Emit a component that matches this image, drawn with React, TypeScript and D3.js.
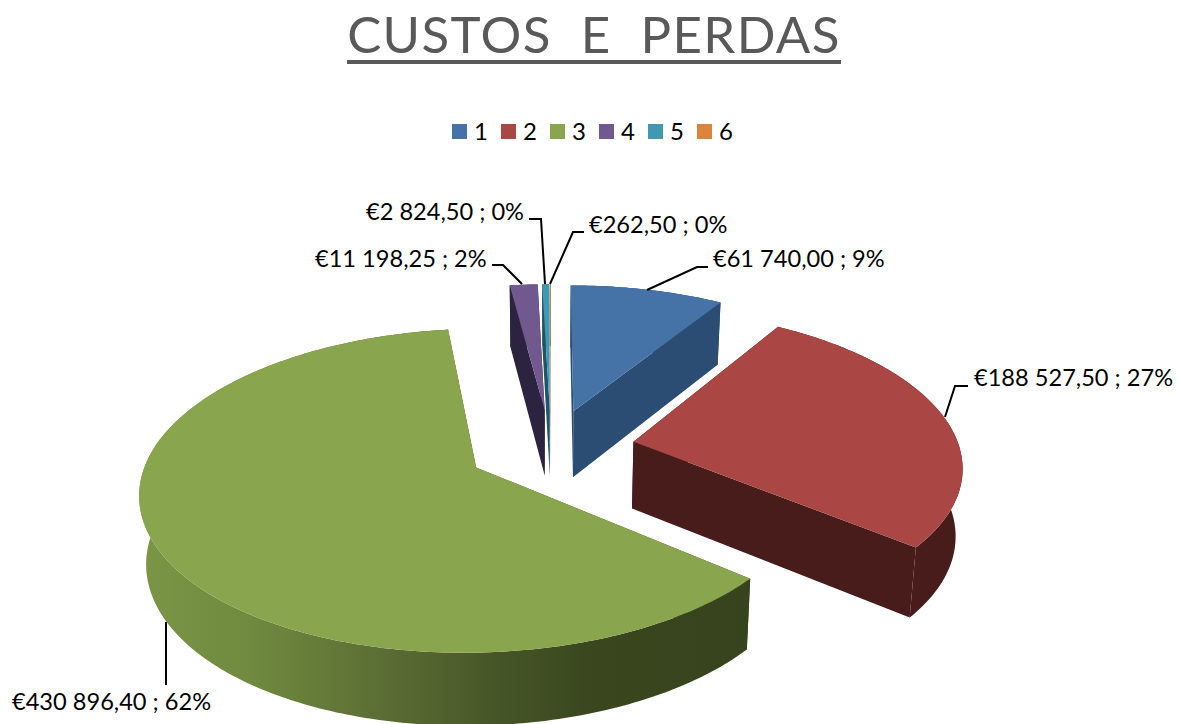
import React from "react";
import * as d3 from "d3";

const categories = ["1", "2", "3", "4", "5", "6"];
const values = [61740.0, 188527.5, 430896.4, 11198.25, 2824.5, 262.5];
const labelTexts = [
  "€61 740,00 ; 9%",
  "€188 527,50 ; 27%",
  "€430 896,40 ; 62%",
  "€11 198,25 ; 2%",
  "€2 824,50 ; 0%",
  "€262,50 ; 0%",
];
const topColors = ["#4572A7", "#AA4643", "#89A54E", "#71588F", "#4198AF", "#DB843D"];
const wallColors = ["#2C4D73", "#471C1A", "url(#greenWall)", "#2C2340", "#1F5565", "#7A4A20"];
const drawOrder = [0, 5, 4, 3, 1, 2];

// leader line layout [points], label anchor [x, baseline]
const leaders: [number, number][][] = [
  [[647, 290], [697, 267], [708, 267]],
  [[945, 417], [955, 386], [968, 386]],
  [[166, 622], [166, 685]],
  [[522, 284], [503, 265], [492, 265]],
  [[545, 284], [541, 219], [529, 219]],
  [[550, 284], [573, 232], [584, 232]],
];
const labelPos: [number, number][] = [
  [713, 267],
  [974, 386],
  [12, 710],
  [315, 267],
  [366, 220],
  [589, 233],
];

// camera
const CX = 551, CY = 448, RADIUS = 326, EXPLODE = 84, TILT = 0.47, PERSP = 0.000432, DEPTH = 67, SHRINK = 0.983;

function project(X: number, Y: number, bottom: boolean): [number, number] {
  const s = 1 / (1 - PERSP * Y);
  if (!bottom) return [CX + X * s, CY + TILT * Y * s];
  return [CX + X * s * SHRINK, CY + TILT * Y * s + DEPTH * Math.sqrt(s)];
}

const pieGen = d3.pie<number>().sort(null).value((d) => d).startAngle(0).endAngle(2 * Math.PI);
const arcs = pieGen(values);
const line = d3.line();

function slicePaths(i: number) {
  const a = arcs[i];
  const mid = (a.startAngle + a.endAngle) / 2;
  const ox = EXPLODE * Math.sin(mid);
  const oy = -EXPLODE * Math.cos(mid);
  const n = Math.max(2, Math.ceil((a.endAngle - a.startAngle) * 60));
  const angles = d3.range(n + 1).map((k) => a.startAngle + ((a.endAngle - a.startAngle) * k) / n);
  const rim = (b: boolean) =>
    angles.map((t) => project(ox + RADIUS * Math.sin(t), oy - RADIUS * Math.cos(t), b));
  const rimT = rim(false);
  const rimB = rim(true);
  const apexT = project(ox, oy, false);
  const apexB = project(ox, oy, true);
  return {
    top: line([apexT, ...rimT]) + "Z",
    wall: line([...rimT, ...rimB.slice().reverse()]) + "Z",
    faceStart: line([apexT, rimT[0], rimB[0], apexB]) + "Z",
    faceEnd: line([apexT, rimT[n], rimB[n], apexB]) + "Z",
  };
}

const legendX = d3.scalePoint<string>().domain(categories).range([452, 697]);
const FONT = "Lato, 'Open Sans', sans-serif";

export default function App() {
  return (
    <svg
      width={1178}
      height={724}
      viewBox="0 0 1178 724"
      style={{ position: "absolute", left: 0, top: 0, display: "block", background: "#fff" }}
      fontFamily={FONT}
    >
      <defs>
        <linearGradient id="greenWall" gradientUnits="userSpaceOnUse" x1={138} y1={0} x2={760} y2={0}>
          <stop offset="0" stopColor="#7B9645" />
          <stop offset="0.18" stopColor="#708A3F" />
          <stop offset="0.42" stopColor="#586A32" />
          <stop offset="0.58" stopColor="#465527" />
          <stop offset="0.74" stopColor="#39461E" />
          <stop offset="1" stopColor="#37431C" />
        </linearGradient>
      </defs>

      <text x={594} y={53} textAnchor="middle" fontSize={51} fill="#595959" style={{ whiteSpace: "pre" }} letterSpacing={1.4}>
        {"CUSTOS  E  PERDAS"}
      </text>
      <rect x={347} y={60} width={494} height={4} fill="#595959" />

      {categories.map((c, i) => (
        <g key={c}>
          <rect x={legendX(c)} y={124} width={15} height={15} fill={topColors[i]} />
          <text x={(legendX(c) as number) + 22} y={140} fontSize={24} fill="#000">
            {c}
          </text>
        </g>
      ))}

      {drawOrder.map((i) => {
        const p = slicePaths(i);
        return (
          <g key={i}>
            <path d={p.faceStart} fill={wallColors[i]} />
            <path d={p.faceEnd} fill={wallColors[i]} />
            <path d={p.wall} fill={wallColors[i]} />
            <path d={p.top} fill={topColors[i]} />
          </g>
        );
      })}

      {leaders.map((pts, i) => (
        <path key={i} d={line(pts) as string} fill="none" stroke="#000" strokeWidth={2} />
      ))}
      {labelTexts.map((t, i) => (
        <text key={t} x={labelPos[i][0]} y={labelPos[i][1]} fontSize={23.6} fill="#000">
          {t}
        </text>
      ))}
    </svg>
  );
}
